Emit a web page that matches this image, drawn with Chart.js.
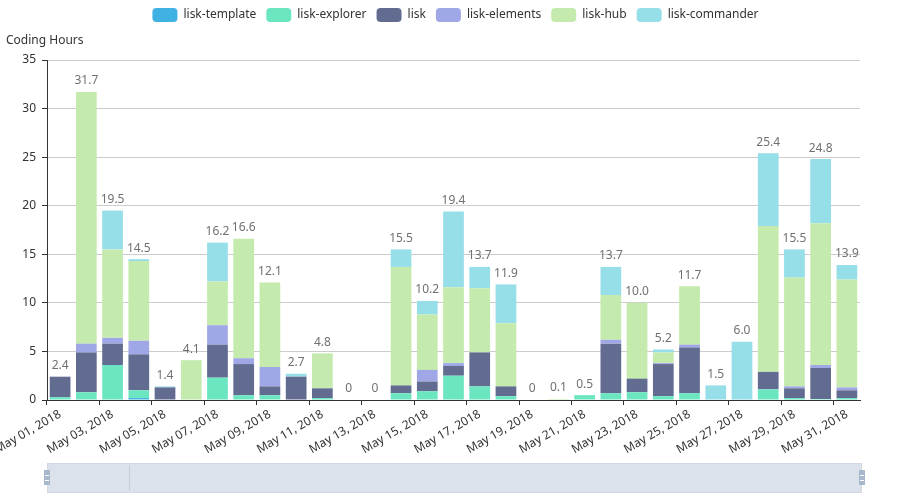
<!DOCTYPE html>
<html>
<head>
<meta charset="utf-8">
<script src="https://cdn.jsdelivr.net/npm/chart.js@4/dist/chart.umd.min.js"></script>
<style>
  html, body { margin: 0; padding: 0; background: #fff; }
  #wrap { width: 905px; height: 500px; position: relative; }
</style>
</head>
<body>
<div id="wrap"><canvas id="chart" width="905" height="500"></canvas></div>
<script>
const days = [];
for (let d = 1; d <= 31; d++) {
    days.push('May ' + String(d).padStart(2, '0') + ', 2018');
}

const liskTemplate  = [0, 0, 0, 0.2, 0, 0, 0, 0, 0, 0, 0, 0, 0, 0, 0, 0, 0, 0, 0, 0, 0, 0, 0, 0, 0, 0, 0, 0, 0, 0, 0];
const liskExplorer  = [0.3, 0.8, 3.6, 0.8, 0, 0, 2.3, 0.5, 0.5, 0, 0.2, 0, 0, 0.7, 0.9, 2.5, 1.4, 0.4, 0, 0, 0.5, 0.7, 0.8, 0.4, 0.7, 0, 0, 1.1, 0.2, 0.1, 0.2];
const lisk          = [2.1, 4.1, 2.2, 3.7, 1.3, 0, 3.4, 3.2, 0.9, 2.4, 1.0, 0, 0, 0.8, 1.0, 1.0, 3.5, 1.0, 0, 0, 0, 5.1, 1.4, 3.3, 4.7, 0, 0, 1.8, 1.0, 3.2, 0.8];
const liskElements  = [0, 0.9, 0.6, 1.4, 0, 0, 2.0, 0.6, 2.0, 0, 0, 0, 0, 0, 1.2, 0.3, 0, 0, 0, 0, 0, 0.4, 0, 0.1, 0.3, 0, 0, 0, 0.2, 0.3, 0.3];
const liskHub       = [0, 25.9, 9.1, 8.2, 0, 4.1, 4.5, 12.3, 8.7, 0, 3.6, 0, 0, 12.2, 5.7, 7.8, 6.6, 6.5, 0, 0.1, 0, 4.6, 7.8, 1.1, 6.0, 0, 0, 15.0, 11.2, 14.6, 11.1];
const liskCommander = [0, 0, 4.0, 0.2, 0.1, 0, 4.0, 0, 0, 0.3, 0, 0, 0, 1.8, 1.4, 7.8, 2.2, 4.0, 0, 0, 0, 2.9, 0, 0.3, 0, 1.5, 6.0, 7.5, 2.9, 6.6, 1.5];

const yTicks = [0, 5, 10, 15, 20, 25, 30, 35];

const seriesNames  = ['lisk-template', 'lisk-explorer', 'lisk', 'lisk-elements', 'lisk-hub', 'lisk-commander'];
const seriesValues = [liskTemplate, liskExplorer, lisk, liskElements, liskHub, liskCommander];
const seriesColors = ['#3fb1e3', '#6be6c1', '#626c91', '#a0a7e6', '#c4ebad', '#96dee8'];

const FONT = '"Noto Sans", "DejaVu Sans", sans-serif';

// total hours above each stack
const totalLabels = {
    id: 'totalLabels',
    afterDatasetsDraw(chart) {
        const ctx = chart.ctx;
        const xs = chart.scales.x, ys = chart.scales.y;
        ctx.save();
        ctx.font = '12px ' + FONT;
        ctx.fillStyle = '#707070';
        ctx.textAlign = 'center';
        ctx.textBaseline = 'bottom';
        days.forEach((d, i) => {
            let sum = 0;
            seriesValues.forEach(s => sum += s[i]);
            sum = Math.round(sum * 10) / 10;
            const txt = sum === 0 ? '0' : sum.toFixed(1);
            ctx.fillText(txt, xs.getPixelForValue(i), ys.getPixelForValue(sum) - 5);
        });
        ctx.restore();
    }
};

// slider look-alike underneath the axis
const slider = {
    id: 'slider',
    afterDraw(chart) {
        const ctx = chart.ctx;
        ctx.save();
        const x0 = 47, x1 = 862, y0 = 463, y1 = 493;
        ctx.fillStyle = '#dce2eb';
        ctx.fillRect(x0, y0, x1 - x0, y1 - y0);
        ctx.strokeStyle = '#d2d9e3';
        ctx.lineWidth = 1;
        ctx.strokeRect(x0 + 0.5, y0 + 0.5, x1 - x0 - 1, y1 - y0 - 1);
        ctx.strokeStyle = '#c5cdd9';
        ctx.beginPath();
        ctx.moveTo(129.5, y0 + 2);
        ctx.lineTo(129.5, y1 - 2);
        ctx.stroke();
        [x0, x1].forEach(hx => {
            ctx.fillStyle = '#a7b7cc';
            ctx.fillRect(hx - 3, 470, 6, 15);
            ctx.fillStyle = '#fff';
            ctx.fillRect(hx - 2, 475, 4, 1);
            ctx.fillRect(hx - 2, 480, 4, 1);
        });
        ctx.restore();
    }
};

const datasets = seriesNames.map((name, k) => ({
    label: name,
    data: seriesValues[k],
    backgroundColor: seriesColors[k],
    borderWidth: 0,
    barPercentage: 0.79,
    categoryPercentage: 1.0
}));

new Chart(document.getElementById('chart'), {
    type: 'bar',
    data: { labels: days, datasets: datasets },
    plugins: [totalLabels, slider],
    options: {
        responsive: false,
        animation: false,
        layout: { padding: { left: 6, right: 0, top: -2, bottom: 0 } },
        plugins: {
            legend: {
                position: 'top',
                labels: {
                    boxWidth: 25,
                    boxHeight: 14,
                    useBorderRadius: true,
                    borderRadius: 4,
                    padding: 10,
                    color: '#333',
                    font: { size: 12, family: FONT }
                }
            },
            title: {
                display: true,
                text: 'Coding Hours',
                align: 'start',
                weight: 500,
                color: '#333',
                font: { size: 12, weight: 'normal', family: FONT },
                padding: { top: 1, bottom: 12.6 }
            },
            tooltip: { enabled: false }
        },
        scales: {
            x: {
                stacked: true,
                offset: true,
                afterFit(s) { s.height = 100; s.paddingLeft = 0; s.paddingRight = 45; },
                border: { color: '#333' },
                grid: {
                    offset: true,
                    drawOnChartArea: false,
                    tickLength: 5,
                    tickColor: c => (c.index % 2 === 0 ? '#333' : 'rgba(0,0,0,0)')
                },
                ticks: {
                    autoSkip: false,
                    minRotation: 30,
                    maxRotation: 30,
                    padding: 2,
                    color: '#333',
                    font: { size: 12, family: FONT },
                    callback: (v, i) => (i % 2 === 0 ? days[i] : '')
                }
            },
            y: {
                stacked: true,
                min: 0,
                max: 35,
                afterFit(s) { s.width = 41; },
                afterBuildTicks(s) { s.ticks = yTicks.map(v => ({ value: v })); },
                border: { color: '#333' },
                grid: { color: '#ccc', tickColor: '#333', tickLength: 5 },
                ticks: {
                    padding: 6,
                    color: '#333',
                    font: { size: 12, family: FONT }
                }
            }
        }
    }
});
</script>
</body>
</html>
